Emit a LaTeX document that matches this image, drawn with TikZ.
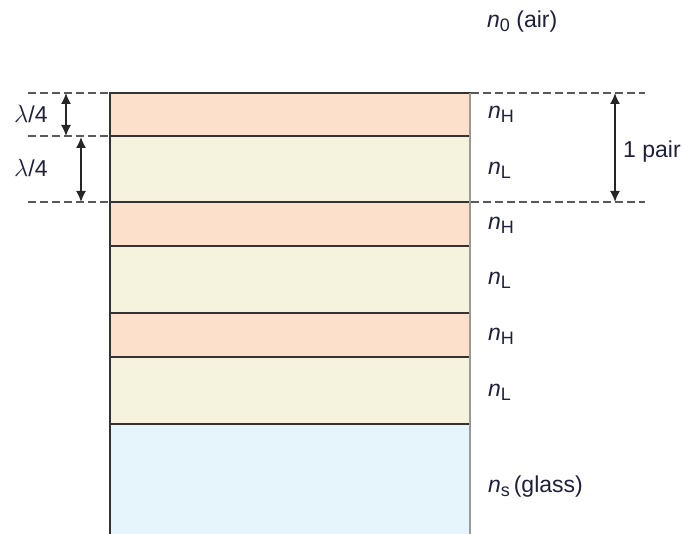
\documentclass[tikz,border=0pt]{standalone}
\usepackage{fontspec}
\setmainfont{Liberation Sans}
\usetikzlibrary{arrows.meta}

\definecolor{peach}{RGB}{252,224,204}
\definecolor{cream}{RGB}{245,242,221}
\definecolor{glass}{RGB}{230,245,252}
\definecolor{ink}{RGB}{30,32,60}

\newcommand{\nidx}[1]{\textit{n}\raisebox{-0.3ex}{\fontsize{18}{18}\selectfont #1}}

\begin{document}
\begin{tikzpicture}[x=1pt,y=-1pt,font=\fontsize{23}{25}\selectfont,text=ink]
    \tikzstyle{layerH}=[fill=peach,draw=black!80,line width=1.6pt]
    \tikzstyle{layerL}=[fill=cream,draw=black!80,line width=1.6pt]
    \tikzstyle{guide}=[draw=black!65,line width=1.5pt,dash pattern=on 8pt off 4pt]
    \tikzstyle{span}=[{Latex[length=11pt,width=10pt]}-{Latex[length=11pt,width=10pt]},draw=black!85,line width=1.6pt]
    \tikzstyle{label}=[anchor=west,inner sep=0pt]

    \useasboundingbox (0,0) rectangle (685,534);

    % stack of layers
    \filldraw[layerH] (110,93) rectangle (470,136);
    \filldraw[layerL] (110,136) rectangle (470,202);
    \filldraw[layerH] (110,202) rectangle (470,246);
    \filldraw[layerL] (110,246) rectangle (470,313);
    \filldraw[layerH] (110,313) rectangle (470,357);
    \filldraw[layerL] (110,357) rectangle (470,424);
    \fill[glass] (110,424) rectangle (470,534);
    \draw[black!80,line width=1.6pt] (110,424) -- (470,424);
    \draw[black!80,line width=1.6pt] (110,93) -- (110,534);
    \draw[black!40,line width=2.6pt] (470,93) -- (470,534);

    % guide lines
    \coordinate (topL) at (28,93);
    \coordinate (midL) at (28,136);
    \coordinate (botL) at (28,202);
    \coordinate (topR) at (645,93);
    \coordinate (botR) at (645,202);
    \draw[guide] (topL) -- (110,93);
    \draw[guide] (midL) -- (110,136);
    \draw[guide] (botL) -- (110,202);
    \draw[guide] (471,93) -- (topR);
    \draw[guide] (471,202) -- (botR);

    % thickness arrows
    \coordinate (a1) at (66,93);
    \coordinate (a2) at (66,136);
    \coordinate (b1) at (81,137);
    \coordinate (b2) at (81,202);
    \coordinate (p1) at (615,93);
    \coordinate (p2) at (615,202);
    \draw[span] (a1) -- (a2);
    \draw[span] (b1) -- (b2);
    \draw[span] (p1) -- (p2);

    \node[label] (q1) at (14,114) {$\lambda$/4};
    \node[label] (q2) at (14,168) {$\lambda$/4};
    \node[label] (pair) at (623,152) {1 pair};

    % indices
    \node[label] (n0) at (487,22) {\nidx{0} (air)};
    \node[label] (h1) at (488,114) {\nidx{H}};
    \node[label] (l1) at (488,170) {\nidx{L}};
    \node[label] (h2) at (488,225) {\nidx{H}};
    \node[label] (l2) at (488,280) {\nidx{L}};
    \node[label] (h3) at (488,336) {\nidx{H}};
    \node[label] (l3) at (488,392) {\nidx{L}};
    \node[label] (ns) at (488,487) {\nidx{s}\,(glass)};
\end{tikzpicture}
\end{document}
